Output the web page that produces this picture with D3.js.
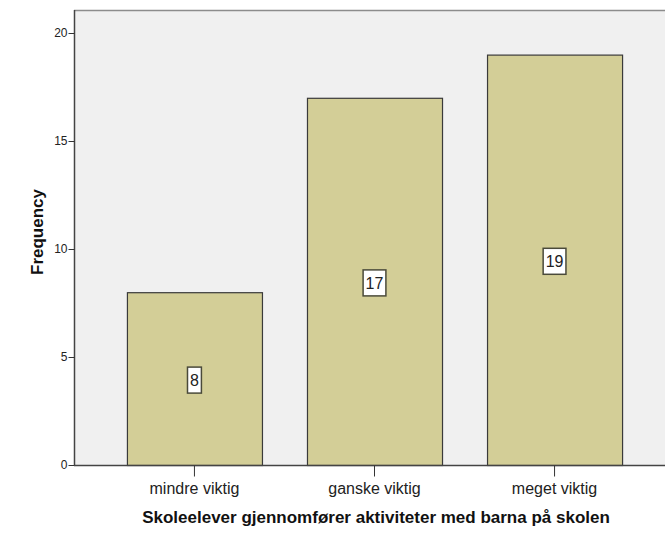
<!DOCTYPE html>
<html>
<head>
<meta charset="utf-8">
<script src="https://cdn.jsdelivr.net/npm/d3@7"></script>
<style>
  html, body { margin: 0; padding: 0; background: #ffffff; }
  svg { display: block; }
</style>
</head>
<body>
<svg id="chart" width="665" height="533"></svg>
<script>
// Frequency of each answer category
const categories = ["mindre viktig", "ganske viktig", "meget viktig"];
const frequencies = [8, 17, 19];
const yTicks = [0, 5, 10, 15, 20];
const xTitle = "Skoleelever gjennomfører aktiviteter med barna på skolen";
const yTitle = "Frequency";

const FONT = "Liberation Sans, Arial, sans-serif";
const svg = d3.select("#chart");
const plotLeft = 74, plotTop = 10, plotRight = 675, plotBottom = 465;

const x = d3.scaleBand()
  .domain(categories)
  .range([plotLeft, plotRight])
  .paddingInner(0.25)
  .paddingOuter(0.294);

const y = d3.scaleLinear()
  .domain([0, 20])
  .range([plotBottom, 33]);

// plot background
svg.append("rect")
  .attr("x", plotLeft).attr("y", plotTop)
  .attr("width", plotRight - plotLeft).attr("height", plotBottom - plotTop)
  .attr("fill", "#f0f0f0");

// frame top edge
svg.append("line")
  .attr("x1", plotLeft).attr("x2", plotRight)
  .attr("y1", plotTop + 0.5).attr("y2", plotTop + 0.5)
  .attr("stroke", "#8c8c8c").attr("stroke-width", 1.5);

// bars
svg.append("g").selectAll("rect")
  .data(frequencies)
  .join("rect")
  .attr("x", (d, i) => x(categories[i]) + 0.5)
  .attr("y", d => y(d) + 0.5)
  .attr("width", x.bandwidth())
  .attr("height", d => plotBottom - y(d))
  .attr("fill", "#d3ce97")
  .attr("stroke", "#3a3a3a")
  .attr("stroke-width", 1.2);

// value labels in white boxes, sized to their text
const labels = svg.append("g").selectAll("g")
  .data(frequencies)
  .join("g")
  .attr("transform", (d, i) =>
    `translate(${x(categories[i]) + x.bandwidth() / 2}, ${y(d / 2) + 1.5})`);

labels.append("rect")
  .attr("y", -13)
  .attr("height", 26)
  .attr("fill", "#ffffff")
  .attr("stroke", "#4a4a3a")
  .attr("stroke-width", 1.5);

const valueText = labels.append("text")
  .attr("text-anchor", "middle")
  .attr("dy", "0.36em")
  .attr("font-family", FONT)
  .attr("font-size", 16)
  .attr("fill", "#222")
  .text(d => d);

valueText.each(function () {
  const w = this.getComputedTextLength() + 5;
  d3.select(this.previousSibling)
    .attr("x", -w / 2)
    .attr("width", w);
});

// y axis
const yAxis = svg.append("g")
  .attr("transform", `translate(${plotLeft + 0.5},0)`)
  .call(d3.axisLeft(y).tickValues(yTicks).tickSize(6).tickPadding(1));
yAxis.select(".domain").attr("d", `M0,${plotTop}V${plotBottom}`).attr("stroke", "#444").attr("stroke-width", 1.5);
yAxis.selectAll(".tick line").attr("stroke", "#333");
yAxis.selectAll("text")
  .attr("font-family", FONT)
  .attr("font-size", 12).attr("fill", "#222");

// x axis
const xAxis = svg.append("g")
  .attr("transform", `translate(0,${plotBottom + 0.5})`)
  .call(d3.axisBottom(x).tickSize(11).tickPadding(6));
xAxis.select(".domain").attr("d", `M${plotLeft},0H${plotRight}`).attr("stroke", "#444").attr("stroke-width", 1.5);
xAxis.selectAll(".tick line").attr("stroke", "#333");
xAxis.selectAll("text")
  .attr("font-family", FONT)
  .attr("font-size", 16).attr("fill", "#222");

// axis titles
svg.append("text")
  .attr("x", 376).attr("y", 523)
  .attr("text-anchor", "middle")
  .attr("font-family", FONT)
  .attr("font-size", 17).attr("font-weight", "bold").attr("fill", "#111")
  .text(xTitle);

svg.append("text")
  .attr("transform", "translate(43,232) rotate(-90)")
  .attr("text-anchor", "middle")
  .attr("font-family", FONT)
  .attr("font-size", 17).attr("font-weight", "bold").attr("fill", "#111")
  .text(yTitle);
</script>
</body>
</html>
